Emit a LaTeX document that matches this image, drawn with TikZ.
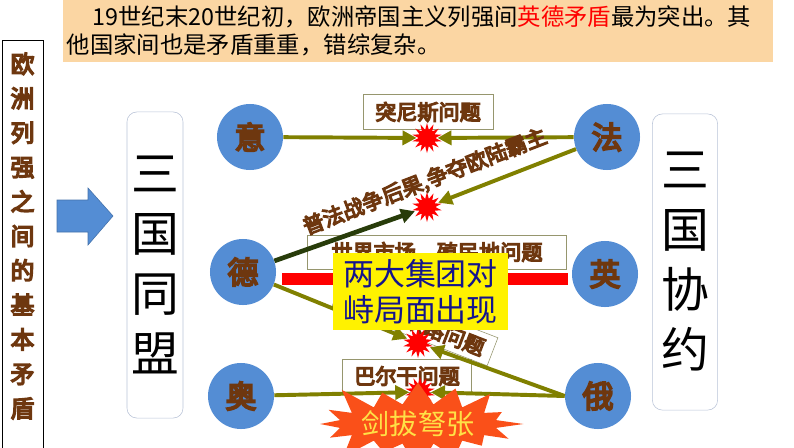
\documentclass[tikz,border=0pt]{standalone}
\usepackage{fontspec}
\setmainfont{Noto Sans CJK SC}
\newfontfamily\inkfont{Noto Sans CJK SC}[FakeBold=6]
\usepackage{xcolor}
\usetikzlibrary{shapes.geometric, shapes.symbols, arrows.meta, calc}
\definecolor{nodeBlue}{RGB}{84, 141, 212}
\definecolor{brownInk}{RGB}{110, 55, 15}
\definecolor{arrowOlive}{RGB}{128, 128, 0}
\definecolor{darkOlive}{RGB}{40, 60, 10}
\definecolor{boxGray}{RGB}{150, 150, 110}
\definecolor{allyGray}{RGB}{185, 195, 215}
\definecolor{topFill}{RGB}{251, 214, 163}
\definecolor{burstOrange}{RGB}{250, 80, 25}
\definecolor{burstText}{RGB}{255, 225, 70}
\definecolor{blueInk}{RGB}{20, 20, 140}

\begin{document}
\begin{tikzpicture}[
        x=0.025cm, y=-0.025cm,
        country/.style={circle, fill=nodeBlue, minimum size=1.65cm, inner sep=0pt, text=brownInk, font=\inkfont\fontsize{22}{22}\selectfont},
        issuebox/.style={rectangle, draw=boxGray, fill=white, thin, text=brownInk, inner sep=2pt, font=\inkfont\fontsize{15}{15}\selectfont},
        allybox/.style={rectangle, draw=allyGray, rounded corners=7pt, align=center, inner sep=0pt, font=\fontsize{34}{42.7}\selectfont},
        blast/.style={star, star points=14, star point ratio=1.8, fill=red, minimum size=0.75cm, inner sep=0pt},
        arrow/.style={-{Triangle[length=10pt, width=10pt]}, line width=2.8pt, arrowOlive, shorten >=1pt},
        darkarrow/.style={arrow, darkOlive, line width=3.3pt}
    ]
        \useasboundingbox (0,0) rectangle (794,447);

        % heading
        \node[fill=topFill, minimum width=17.75cm, minimum height=1.55cm, text width=17.55cm, inner sep=0.1cm, align=left, font=\fontsize{16.6}{19.5}\selectfont] (topnote) at (418,31)
            {\hspace*{1.1em}19世纪末20世纪初，欧洲帝国主义列强间\textcolor{red}{英德矛盾}最为突出。其\\他国家间也是矛盾重重，错综复杂。};

        % left column
        \node[draw, minimum width=1.025cm, minimum height=10.6cm, inner sep=0pt, anchor=north] (colbox) at (22.5,40) {};
        \node[align=center, text=brownInk, font=\inkfont\fontsize{17}{24.5}\selectfont] (coltext) at (22.5,236)
            {欧\\洲\\列\\强\\之\\间\\的\\基\\本\\矛\\盾};
        \fill[nodeBlue, draw=nodeBlue!80!black] (57,200) -- (88,200) -- (88,188) -- (113,216) -- (88,245) -- (88,232) -- (57,232) -- cycle;

        % alliances
        \node[allybox, minimum width=1.4cm, minimum height=7.65cm] (triple) at (155,265) {三\\国\\同\\盟};
        \node[allybox, minimum width=1.63cm, minimum height=7.4cm] (entente) at (685,262) {三\\国\\协\\约};

        % countries
        \node[country] (yi) at (250,137) {意};
        \node[country] (de) at (243,272) {德};
        \node[country] (ao) at (241,396) {奥};
        \node[country] (fa) at (607,137) {法};
        \node[country] (ying) at (605,274) {英};
        \node[country] (e) at (598,396) {俄};

        % issues
        \node[issuebox, minimum width=3.25cm, minimum height=0.875cm] (tunisia) at (428,112) {突尼斯问题};
        \node[issuebox, minimum width=6.475cm, minimum height=0.85cm] (market) at (437,252) {世界市场、殖民地问题};
        \node[issuebox, minimum width=4.15cm, minimum height=0.75cm, rotate=-21] (baghdad) at (415,322) {巴格达铁路问题};
        \node[issuebox, minimum width=3.225cm, minimum height=0.825cm] (balkan) at (407,376) {巴尔干问题};

        \node[blast] (b1) at (427,138) {};
        \node[blast] (b2) at (427,207) {};
        \node[blast] (b3) at (418,343) {};
        \node[blast] (b4) at (420,392) {};

        \draw[arrow] (yi) -- (b1);
        \draw[arrow] (fa) -- (b1);
        \draw[arrow] (fa) -- (b2);
        \draw[darkarrow] (de) -- (b2);
        \draw[red, line width=8.5pt] ($(de.east)+(6,7)$) -- ($(ying.west)+(-4,5)$);
        \draw[arrow] (de) -- (b3);
        \draw[arrow] (e.west) -- (b3);
        \draw[arrow] (ao) -- (b4);
        \draw[arrow] (e.west) -- (b4);

        \node[rotate=21, text=brownInk, font=\inkfont\fontsize{15}{15}\selectfont] (claim) at (425,182) {普法战争后果,争夺欧陆霸主};

        \node[fill=yellow, minimum width=4.375cm, minimum height=1.925cm, align=center, text=blueInk, font=\fontsize{22}{25.5}\selectfont] (blocs) at (420.5,291.5) {两大集团对\\峙局面出现};
        \node[starburst, starburst points=16, starburst point height=0.75cm, fill=burstOrange, text=burstText, minimum width=4.3cm, minimum height=2.5cm, inner sep=0pt, font=\fontsize{20}{20}\selectfont] (tension) at (418,424) {剑拔弩张};
    \end{tikzpicture}
\end{document}
